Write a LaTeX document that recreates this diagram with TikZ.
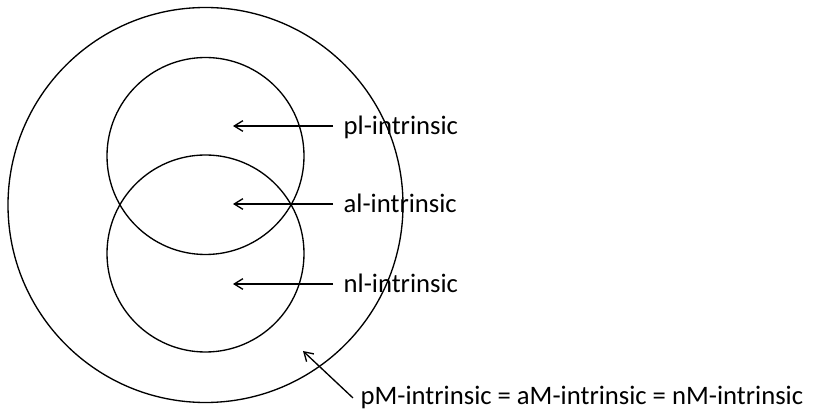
\documentclass[tikz,border=0pt]{standalone}
\usepackage{fontspec}
\setmainfont{Carlito}
\usetikzlibrary{arrows.meta}
\begin{document}
\begin{tikzpicture}[x=0.75pt,y=-0.75pt,
  line width=1pt,
  ring/.style={circle,draw,inner sep=0pt,outer sep=0pt,minimum size=#1},
  lbl/.style={anchor=base west,inner ysep=0pt,inner xsep=7.5pt,font=\fontsize{20pt}{24pt}\selectfont},
  arr/.style={-{Straight Barb[length=6.5pt,width=8pt]}}]
  \useasboundingbox (0,0) rectangle (836,416);
  % the three sets
  \node[ring=296.25pt] (outer) at (205.5,205) {};
  \node[ring=147.75pt] (upper) at (205.5,156) {};
  \node[ring=147.75pt] (lower) at (205.5,253.5) {};
  % arrow targets
  \coordinate (ptip) at (233,126);
  \coordinate (atip) at (233,204);
  \coordinate (ntip) at (233,284);
  \coordinate (mtip) at (303,351);
  % labels
  \node[lbl] (pl) at (333,135) {pl-intrinsic};
  \node[lbl] (al) at (333,213) {al-intrinsic};
  \node[lbl] (nl) at (333,293) {nl-intrinsic};
  \node[lbl,inner xsep=5.25pt] (eq) at (353,405) {pM-intrinsic = aM-intrinsic = nM-intrinsic};
  % arrows
  \draw[arr] (ptip -| pl.west) -- (ptip);
  \draw[arr] (atip -| al.west) -- (atip);
  \draw[arr] (ntip -| nl.west) -- (ntip);
  \draw[arr] (eq.west) -- (mtip);
\end{tikzpicture}
\end{document}
